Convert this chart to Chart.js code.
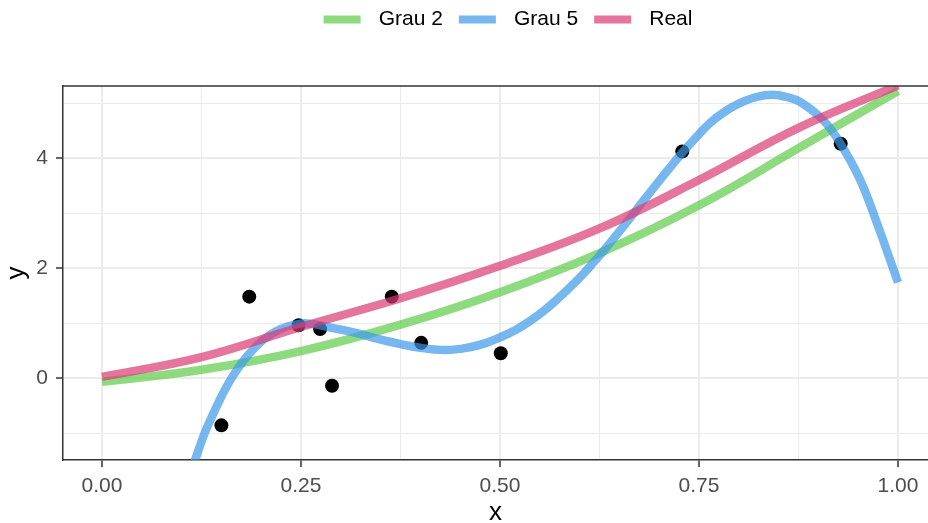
<!DOCTYPE html>
<html>
<head>
<meta charset="utf-8">
<script src="https://cdn.jsdelivr.net/npm/chart.js@4.4.0/dist/chart.umd.min.js"></script>
<style>
  html, body { margin: 0; padding: 0; background: #ffffff; }
</style>
</head>
<body>
<canvas id="fitChart" width="928" height="523"></canvas>
<script>
// observed points
const sampleX = [0.150, 0.185, 0.247, 0.274, 0.289, 0.364, 0.401, 0.501, 0.729, 0.928];
const sampleY = [-0.86, 1.48, 0.96, 0.89, -0.14, 1.48, 0.64, 0.45, 4.12, 4.26];

// fitted curves
const grau2X = [0, 0.125, 0.25, 0.375, 0.5, 0.625, 0.75, 0.875, 1.0];
const grau2Y = [-0.07, 0.15, 0.49, 0.97, 1.56, 2.27, 3.14, 4.18, 5.22];

const grau5X = [0.105, 0.117, 0.129, 0.140, 0.152, 0.165, 0.182, 0.203, 0.224, 0.249, 0.265, 0.286,
                0.316, 0.337, 0.362, 0.400, 0.433, 0.462, 0.481, 0.500, 0.519, 0.538, 0.555, 0.571,
                0.588, 0.605, 0.618, 0.630, 0.648, 0.665, 0.681, 0.697, 0.712, 0.728, 0.746, 0.764,
                0.782, 0.800, 0.822, 0.843, 0.860, 0.877, 0.906, 0.927, 0.952, 0.973, 1.0];
const grau5Y = [-2.0, -1.49, -1.0, -0.64, -0.28, 0.05, 0.39, 0.70, 0.89, 0.99, 0.98, 0.92,
                0.83, 0.75, 0.66, 0.55, 0.51, 0.56, 0.63, 0.74, 0.87, 1.04, 1.22, 1.42,
                1.65, 1.90, 2.11, 2.31, 2.63, 2.94, 3.24, 3.53, 3.80, 4.08, 4.37, 4.64,
                4.84, 4.99, 5.11, 5.15, 5.11, 5.02, 4.69, 4.28, 3.62, 2.84, 1.74];

const realX = [0, 0.125, 0.25, 0.375, 0.5, 0.625, 0.75, 0.875, 1.0];
const realY = [0.02, 0.38, 0.93, 1.45, 2.04, 2.72, 3.6, 4.55, 5.32];

const seriesNames = ['Grau 2', 'Grau 5', 'Real'];
const seriesColors = ['rgba(94,204,72,0.7)', 'rgba(60,152,232,0.7)', 'rgba(220,58,115,0.7)'];

const xMajorTicks = [0, 0.25, 0.5, 0.75, 1];
const xTickLabels = ['0.00', '0.25', '0.50', '0.75', '1.00'];
const xMinorTicks = [0.125, 0.375, 0.625, 0.875];
const yMajorTicks = [0, 2, 4];
const yTickLabels = ['0', '2', '4'];
const yMinorTicks = [-1, 1, 3, 5];

const FONT = '"Liberation Sans", Arial, Helvetica, sans-serif';
const legendShift = 44;   // legend is centred on the (cropped) panel, not the canvas

function toPoints(xs, ys) {
  return xs.map((x, i) => ({ x: x, y: ys[i] }));
}

function isMajor(list, v) {
  return list.some(m => Math.abs(m - v) < 1e-9);
}

function curve(idx, xs, ys) {
  return {
    type: 'line',
    label: seriesNames[idx],
    data: toPoints(xs, ys),
    borderColor: seriesColors[idx],
    backgroundColor: seriesColors[idx],
    borderWidth: 8.5,
    pointRadius: 0,
    tension: 0.4,
    borderCapStyle: 'butt',
    clip: 0,
    order: 3 - idx
  };
}

// legend sits high with a big gap under it
const legendGap = {
  id: 'legendGap',
  beforeInit(chart) {
    const fit = chart.legend.fit;
    chart.legend.fit = function () {
      fit.call(this);
      this.height = 86;
    };
  },
  afterLayout(chart) {
    const lg = chart.legend;
    lg.left += legendShift;
    lg.right += legendShift;
    lg.top -= 7;
    lg.bottom -= 7;
  }
};

// top edge of the panel border
const panelTop = {
  id: 'panelTop',
  afterDatasetsDraw(chart) {
    const { ctx, chartArea } = chart;
    ctx.save();
    ctx.strokeStyle = '#333333';
    ctx.lineWidth = 1.5;
    ctx.beginPath();
    ctx.moveTo(chartArea.left, chartArea.top);
    ctx.lineTo(chartArea.right, chartArea.top);
    ctx.stroke();
    ctx.restore();
  }
};

const ctx = document.getElementById('fitChart').getContext('2d');
new Chart(ctx, {
  data: {
    datasets: [
      curve(0, grau2X, grau2Y),
      curve(1, grau5X, grau5Y),
      curve(2, realX, realY),
      {
        type: 'scatter',
        label: 'dados',
        data: toPoints(sampleX, sampleY),
        backgroundColor: '#000000',
        borderWidth: 0,
        pointRadius: 7,
        order: 10
      }
    ]
  },
  options: {
    responsive: false,
    animation: false,
    layout: { padding: 0, autoPadding: false },
    plugins: {
      tooltip: { enabled: false },
      legend: {
        position: 'top',
        labels: {
          font: { family: FONT, size: 21 },
          color: '#000000',
          boxWidth: 37,
          boxHeight: 8,
          padding: 16,
          generateLabels: () => seriesNames.map((name, i) => ({
            text: ' \u200A' + name,
            fillStyle: seriesColors[i],
            strokeStyle: seriesColors[i],
            lineWidth: 0,
            hidden: false,
            datasetIndex: i
          }))
        }
      }
    },
    scales: {
      x: {
        type: 'linear',
        min: -0.049,
        max: 1.0377,
        afterBuildTicks: s => {
          s.ticks = xMajorTicks.concat(xMinorTicks).sort((a, b) => a - b).map(v => ({ value: v }));
        },
        afterFit: s => {
          s.height = 63;
          s.paddingLeft = 0;
          s.paddingRight = 0;
        },
        ticks: {
          autoSkip: false,
          maxRotation: 0,
          padding: 7,
          color: '#4D4D4D',
          font: { family: FONT, size: 21 },
          callback: v => {
            const i = xMajorTicks.findIndex(m => Math.abs(m - v) < 1e-9);
            return i >= 0 ? xTickLabels[i] : '';
          }
        },
        grid: {
          color: '#EBEBEB',
          lineWidth: c => isMajor(xMajorTicks, c.tick.value) ? 2 : 1,
          tickLength: 7,
          tickColor: c => isMajor(xMajorTicks, c.tick.value) ? '#333333' : 'rgba(0,0,0,0)',
          tickWidth: 1.5
        },
        border: { display: true, color: '#333333', width: 1.5 },
        title: {
          display: true,
          text: 'x',
          color: '#000000',
          font: { family: FONT, size: 26, lineHeight: 0.77 },
          padding: { top: 0, bottom: 0 }
        }
      },
      y: {
        type: 'linear',
        min: -1.49,
        max: 5.31,
        afterBuildTicks: s => {
          s.ticks = yMajorTicks.concat(yMinorTicks).sort((a, b) => a - b).map(v => ({ value: v }));
        },
        afterFit: s => { s.width = 63; },
        ticks: {
          autoSkip: false,
          padding: 8,
          color: '#4D4D4D',
          font: { family: FONT, size: 21 },
          callback: v => {
            const i = yMajorTicks.findIndex(m => Math.abs(m - v) < 1e-9);
            return i >= 0 ? yTickLabels[i] : '';
          }
        },
        grid: {
          color: '#EBEBEB',
          lineWidth: c => isMajor(yMajorTicks, c.tick.value) ? 2 : 1,
          tickLength: 7,
          tickColor: c => isMajor(yMajorTicks, c.tick.value) ? '#333333' : 'rgba(0,0,0,0)',
          tickWidth: 1.5
        },
        border: { display: true, color: '#333333', width: 1.5 },
        title: {
          display: true,
          text: 'y',
          color: '#000000',
          font: { family: FONT, size: 26, lineHeight: 1.2 },
          padding: { top: 1, bottom: 0 }
        }
      }
    }
  },
  plugins: [legendGap, panelTop]
});
</script>
</body>
</html>
